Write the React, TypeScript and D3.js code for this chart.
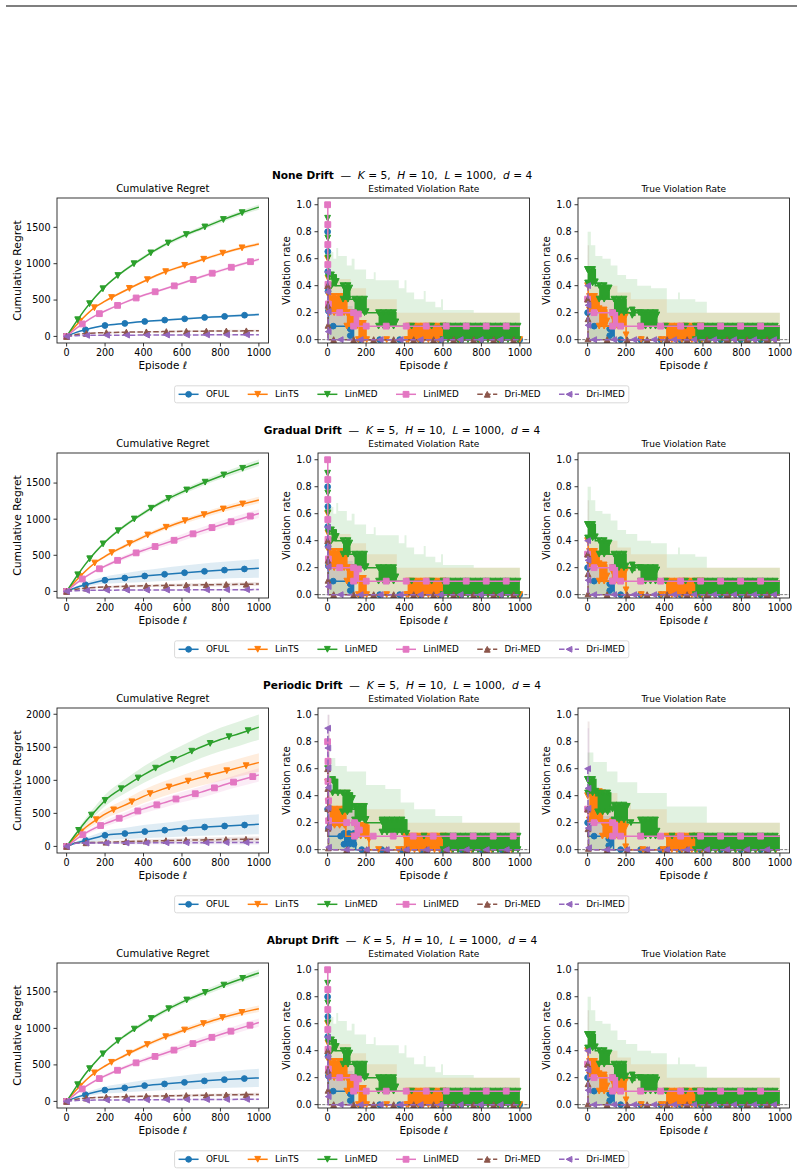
import React, { useEffect, useRef } from 'react';
import * as d3 from 'd3';

type Step = [number, number, number]; // [episode, low, high] held until next episode

const methods = ['OFUL', 'LinTS', 'LinMED', 'LinIMED', 'Dri-MED', 'Dri-IMED'];
const colors = ['#1f77b4', '#ff7f0e', '#2ca02c', '#e377c2', '#8c564b', '#9467bd'];
const markerTypes = ['o', 'v', 'v', 's', '^', '<'];
const dashedLines = [false, false, false, false, true, true];

const driftNames = ['None Drift', 'Gradual Drift', 'Periodic Drift', 'Abrupt Drift'];
const panelTitles = ['Cumulative Regret', 'Estimated Violation Rate', 'True Violation Rate'];

const episodeTicks = [0, 200, 400, 600, 800, 1000];
const rateTicks = [0, 0.2, 0.4, 0.6, 0.8, 1.0];
const regretTicksSmall = [0, 500, 1000, 1500];
const regretTicksLarge = [0, 500, 1000, 1500, 2000];

// cumulative regret, sampled at these episodes
const regretEpisodes = [0, 50, 100, 150, 200, 300, 400, 500, 600, 700, 800, 900, 1000];

const regretNone = [
  [0, 55, 93, 125, 150, 178, 204, 223, 240, 258, 272, 288, 300],
  [0, 155, 290, 405, 485, 625, 755, 875, 965, 1050, 1135, 1210, 1270],
  [0, 200, 385, 545, 685, 905, 1085, 1245, 1375, 1485, 1592, 1690, 1778],
  [0, 110, 205, 285, 350, 465, 565, 645, 730, 820, 905, 985, 1060],
  [0, 25, 40, 48, 52, 58, 62, 66, 70, 72, 74, 76, 78],
  [0, 10, 14, 15, 16, 17, 18, 19, 20, 21, 22, 22, 23],
];
const spreadNone = [
  [0, 5, 7, 9, 10, 12, 13, 14, 15, 16, 17, 18, 19],
  [0, 8, 10, 12, 14, 16, 18, 19, 20, 21, 22, 23, 24],
  [0, 10, 13, 15, 17, 20, 23, 25, 27, 29, 31, 33, 35],
  [0, 8, 10, 12, 13, 15, 17, 18, 19, 20, 21, 22, 24],
  [0, 6, 8, 9, 10, 11, 12, 12, 13, 13, 14, 14, 15],
  [0, 3, 4, 5, 5, 6, 6, 7, 7, 7, 8, 8, 8],
];

const regretGradual = [
  [0, 55, 95, 128, 155, 185, 212, 235, 256, 275, 292, 307, 320],
  [0, 150, 285, 400, 485, 625, 755, 870, 965, 1050, 1130, 1200, 1265],
  [0, 200, 385, 545, 685, 905, 1085, 1245, 1375, 1490, 1595, 1690, 1780],
  [0, 110, 205, 285, 350, 470, 570, 655, 745, 835, 920, 1000, 1078],
  [0, 30, 45, 55, 62, 70, 77, 82, 87, 91, 95, 98, 102],
  [0, 10, 14, 16, 17, 18, 19, 20, 21, 22, 23, 24, 25],
];
const spreadGradual = [
  [0, 15, 30, 40, 50, 65, 80, 90, 100, 108, 115, 122, 130],
  [0, 10, 14, 17, 20, 24, 28, 31, 34, 37, 40, 42, 45],
  [0, 10, 14, 17, 20, 24, 28, 31, 34, 37, 40, 42, 45],
  [0, 10, 15, 20, 24, 30, 36, 41, 46, 50, 54, 57, 60],
  [0, 8, 10, 12, 14, 17, 19, 21, 23, 24, 26, 27, 28],
  [0, 4, 5, 6, 7, 8, 9, 10, 10, 11, 11, 12, 12],
];

const regretPeriodic = [
  [0, 55, 92, 130, 168, 194, 223, 243, 270, 290, 306, 320, 335],
  [0, 150, 290, 395, 490, 620, 757, 867, 960, 1045, 1120, 1196, 1270],
  [0, 195, 380, 540, 695, 902, 1083, 1240, 1373, 1504, 1617, 1710, 1805],
  [0, 108, 205, 280, 345, 455, 568, 655, 745, 822, 915, 1000, 1083],
  [0, 50, 55, 60, 63, 72, 80, 87, 93, 98, 103, 107, 110],
  [0, 48, 50, 50, 51, 52, 53, 55, 56, 57, 58, 59, 60],
];
const spreadPeriodic = [
  [0, 20, 40, 55, 70, 85, 100, 110, 120, 128, 136, 143, 150],
  [0, 25, 45, 60, 70, 85, 100, 110, 118, 125, 130, 135, 140],
  [0, 30, 50, 70, 85, 105, 125, 140, 155, 167, 178, 185, 190],
  [0, 15, 28, 38, 45, 55, 65, 72, 78, 84, 90, 95, 100],
  [0, 15, 18, 20, 22, 25, 27, 29, 31, 33, 35, 38, 40],
  [0, 12, 14, 15, 16, 18, 20, 22, 24, 26, 27, 29, 30],
];

const regretAbrupt = [
  [0, 55, 95, 130, 155, 185, 215, 237, 258, 278, 295, 310, 322],
  [0, 155, 290, 400, 485, 625, 755, 870, 965, 1055, 1140, 1210, 1270],
  [0, 200, 385, 540, 680, 895, 1070, 1225, 1360, 1470, 1575, 1670, 1760],
  [0, 110, 205, 285, 350, 465, 565, 650, 740, 830, 915, 1000, 1080],
  [0, 30, 45, 52, 58, 65, 70, 75, 80, 84, 88, 92, 95],
  [0, 12, 16, 18, 19, 21, 22, 24, 25, 26, 27, 28, 29],
];
const spreadAbrupt = [
  [0, 15, 28, 38, 48, 62, 75, 85, 95, 103, 110, 118, 125],
  [0, 9, 12, 15, 18, 22, 26, 29, 32, 35, 38, 41, 44],
  [0, 10, 13, 16, 19, 23, 27, 30, 33, 36, 39, 42, 45],
  [0, 10, 14, 18, 22, 28, 33, 38, 42, 46, 50, 53, 56],
  [0, 7, 9, 11, 12, 14, 16, 17, 19, 20, 22, 23, 25],
  [0, 4, 5, 6, 6, 7, 8, 9, 10, 10, 11, 12, 12],
];

// violation rates; a step with low < high is a stretch where the rate flips between the two
const estimatedRates: Step[][] = [
  [[0, 0.8, 0.8], [1, 0.5, 0.5], [2, 0.3, 0.3], [4, 0.1, 0.1], [118, 0.03, 0.08], [135, 0, 0]],
  [[0, 0.6, 0.6], [2, 0.4, 0.4], [8, 0.2, 0.32], [100, 0.1, 0.2], [160, 0, 0.12], [200, 0, 0], [420, 0, 0.1], [620, 0, 0]],
  [[0, 0.9, 0.9], [1, 0.7, 0.7], [2, 0.6, 0.6], [4, 0.45, 0.45], [20, 0.4, 0.48], [45, 0.4, 0.4], [80, 0.3, 0.4], [115, 0.3, 0.3], [140, 0.2, 0.3], [200, 0.2, 0.2], [265, 0.1, 0.2], [355, 0.1, 0.1], [600, 0, 0.1]],
  [[0, 1, 1], [1, 0.5, 0.5], [2, 0.4, 0.4], [4, 0.2, 0.2], [135, 0.1, 0.2], [160, 0.1, 0.1]],
  [[0, 0.4, 0.4], [2, 0, 0]],
  [[0, 0.5, 0.5], [1, 0.3, 0.3], [3, 0, 0]],
];
const estimatedBands: Step[][] = [
  [[0, 0, 0.25], [130, 0, 0]],
  [[0, 0, 0.45], [120, 0, 0.38], [200, 0, 0.3], [360, 0, 0.2]],
  [[0, 0, 0.85], [10, 0, 0.65], [30, 0, 0.6], [45, 0, 0.68], [55, 0, 0.62], [100, 0, 0.55], [125, 0, 0.6], [140, 0, 0.52], [200, 0, 0.45], [240, 0, 0.5], [250, 0, 0.44], [370, 0, 0.38], [400, 0, 0.44], [410, 0, 0.35], [450, 0, 0.3], [500, 0, 0.36], [510, 0, 0.28], [560, 0, 0.24], [590, 0, 0.3], [600, 0, 0.22], [760, 0, 0.2]],
  [[0, 0.1, 0.3], [150, 0.1, 0.1]],
  [[0, 0, 0.9], [5, 0, 0]],
  [[0, 0, 0.5], [5, 0, 0]],
];

const trueRates: Step[][] = [
  [[0, 0.2, 0.2], [3, 0.1, 0.1], [115, 0.03, 0.08], [138, 0, 0]],
  [[0, 0.4, 0.4], [3, 0.3, 0.3], [10, 0.22, 0.32], [60, 0.1, 0.22], [100, 0.1, 0.1], [130, 0.1, 0.2], [200, 0, 0], [412, 0, 0.1], [620, 0, 0]],
  [[0, 0.42, 0.52], [40, 0.4, 0.4], [60, 0.3, 0.4], [112, 0.3, 0.3], [137, 0.2, 0.3], [200, 0.2, 0.2], [232, 0.18, 0.22], [250, 0.2, 0.2], [275, 0.1, 0.2], [360, 0.1, 0.1], [560, 0, 0.1]],
  [[0, 0.3, 0.3], [2, 0.2, 0.2], [130, 0.1, 0.2], [155, 0.1, 0.1]],
  [[0, 0.3, 0.3], [2, 0, 0]],
  [[0, 0.4, 0.4], [2, 0, 0]],
];
const trueBands: Step[][] = [
  [[0, 0, 0.2], [130, 0, 0]],
  [[0, 0, 0.4], [155, 0, 0.35], [225, 0, 0.3], [412, 0, 0.2]],
  [[0, 0, 0.8], [17, 0, 0.7], [40, 0, 0.62], [77, 0, 0.6], [120, 0, 0.55], [155, 0, 0.48], [200, 0, 0.45], [258, 0, 0.4], [330, 0, 0.38], [412, 0, 0.3], [470, 0, 0.35], [480, 0, 0.3], [560, 0, 0.28], [620, 0, 0.2]],
  [[0, 0.1, 0.3], [150, 0.1, 0.1]],
  [[0, 0, 0.7], [8, 0, 0]],
  [[0, 0, 0.4], [5, 0, 0]],
];

const periodicEstimatedRates: Step[][] = [
  [[0, 0.3, 0.3], [2, 0.2, 0.2], [4, 0.1, 0.1], [85, 0.04, 0.12], [146, 0, 0]],
  [[0, 0.5, 0.5], [2, 0.35, 0.35], [10, 0.18, 0.3], [95, 0.1, 0.1], [146, 0.1, 0.18], [215, 0, 0], [400, 0, 0.1], [620, 0, 0]],
  [[0, 0.6, 0.6], [2, 0.5, 0.5], [26, 0.42, 0.52], [52, 0.42, 0.42], [77, 0.28, 0.42], [129, 0.3, 0.3], [140, 0.22, 0.32], [200, 0.2, 0.2], [283, 0.13, 0.22], [412, 0.1, 0.1], [600, 0, 0.1]],
  [[0, 0.8, 0.8], [1, 0.7, 0.7], [2, 0.5, 0.5], [3, 0.4, 0.4], [5, 0.2, 0.2], [140, 0.1, 0.2], [165, 0.1, 0.1]],
  [[0, 0.6, 0.6], [1, 0.3, 0.3], [2, 0.1, 0.1], [4, 0, 0]],
  [[0, 0.9, 0.9], [1, 0.7, 0.7], [2, 0.5, 0.5], [3, 0.3, 0.3], [5, 0, 0]],
];
const periodicEstimatedBands: Step[][] = [
  [[0, 0, 0.3], [150, 0, 0]],
  [[0, 0, 0.45], [120, 0, 0.35], [200, 0, 0.3], [400, 0, 0.2]],
  [[0, 0, 0.85], [10, 0, 0.68], [40, 0, 0.62], [100, 0, 0.58], [200, 0, 0.48], [300, 0, 0.45], [380, 0, 0.35], [450, 0, 0.3], [560, 0, 0.25], [700, 0, 0.2]],
  [[0, 0.1, 0.9], [10, 0.1, 0.3], [150, 0.1, 0.1]],
  [[0, 0, 1.0], [10, 0, 0]],
  [[0, 0, 1.0], [8, 0, 0]],
];

const periodicTrueRates: Step[][] = [
  [[0, 0.2, 0.2], [2, 0.1, 0.1], [110, 0.03, 0.08], [135, 0, 0]],
  [[0, 0.4, 0.4], [9, 0.22, 0.43], [77, 0.1, 0.2], [130, 0.1, 0.21], [198, 0, 0], [412, 0, 0.1], [620, 0, 0]],
  [[0, 0.42, 0.52], [43, 0.4, 0.4], [52, 0.28, 0.42], [120, 0.3, 0.3], [137, 0.22, 0.33], [206, 0.2, 0.2], [275, 0.1, 0.22], [361, 0.1, 0.1], [560, 0, 0.1]],
  [[0, 0.3, 0.3], [3, 0.2, 0.2], [130, 0.1, 0.2], [155, 0.1, 0.1]],
  [[0, 0.3, 0.3], [2, 0.1, 0.1], [4, 0, 0]],
  [[0, 0.6, 0.6], [1, 0.5, 0.5], [2, 0.3, 0.3], [3, 0.15, 0.15], [5, 0, 0]],
];
const periodicTrueBands: Step[][] = [
  [[0, 0, 0.25], [130, 0, 0]],
  [[0, 0, 0.42], [155, 0, 0.35], [225, 0, 0.3], [412, 0, 0.2]],
  [[0, 0, 0.72], [30, 0, 0.65], [100, 0, 0.58], [155, 0, 0.5], [258, 0, 0.42], [412, 0, 0.32], [620, 0, 0.2]],
  [[0, 0.1, 0.35], [150, 0.1, 0.1]],
  [[0, 0, 0.95], [10, 0, 0]],
  [[0, 0, 0.9], [8, 0, 0]],
];

const rows = [
  { regret: regretNone, spread: spreadNone, ticks: regretTicksSmall, est: estimatedRates, estBand: estimatedBands, tru: trueRates, truBand: trueBands },
  { regret: regretGradual, spread: spreadGradual, ticks: regretTicksSmall, est: estimatedRates, estBand: estimatedBands, tru: trueRates, truBand: trueBands },
  { regret: regretPeriodic, spread: spreadPeriodic, ticks: regretTicksLarge, est: periodicEstimatedRates, estBand: periodicEstimatedBands, tru: periodicTrueRates, truBand: periodicTrueBands },
  { regret: regretAbrupt, spread: spreadAbrupt, ticks: regretTicksSmall, est: estimatedRates, estBand: estimatedBands, tru: trueRates, truBand: trueBands },
];

const FONT = '"DejaVu Sans", sans-serif';
const PW = 211.5;
const PH = 145;
const panelX = [57, 318, 578];
const ROW_TOP = 198;
const ROW_GAP = 255;
const MS = 5.8;
const MARK_EVERY = 20;

type Sel = d3.Selection<any, unknown, null, undefined>;

function markerPath(type: string) {
  const h = MS / 2;
  if (type === 'v') return `M${-h},${-h}L${h},${-h}L0,${h}Z`;
  if (type === '^') return `M${-h},${h}L${h},${h}L0,${-h}Z`;
  if (type === '<') return `M${h},${-h}L${h},${h}L${-h},0Z`;
  return `M${-h},${-h}H${h}V${h}H${-h}Z`;
}

function drawMarkers(g: Sel, pts: [number, number][], type: string, color: string) {
  pts.forEach(([px, py]) => {
    if (type === 'o') {
      g.append('circle').attr('cx', px).attr('cy', py).attr('r', MS / 2)
        .attr('fill', color).attr('stroke', color).attr('stroke-width', 1);
    } else {
      g.append('path').attr('d', markerPath(type)).attr('transform', `translate(${px},${py})`)
        .attr('fill', color).attr('stroke', color).attr('stroke-width', 1).attr('stroke-linejoin', 'miter');
    }
  });
}

function frame(root: Sel, x: d3.ScaleLinear<number, number>, y: d3.ScaleLinear<number, number>,
  left: number, top: number, yTicks: number[], yFmt: (v: number) => string) {
  const ax = root.append('g');
  episodeTicks.forEach((t) => {
    const px = x(t);
    ax.append('line').attr('x1', px).attr('x2', px).attr('y1', top + PH).attr('y2', top + PH + 3.5)
      .attr('stroke', '#000').attr('stroke-width', 0.8);
    ax.append('text').attr('x', px).attr('y', top + PH + 12.8).attr('text-anchor', 'middle')
      .attr('font-size', 9.6).attr('font-family', FONT).text(String(t));
  });
  yTicks.forEach((t) => {
    const py = y(t);
    ax.append('line').attr('x1', left - 3.5).attr('x2', left).attr('y1', py).attr('y2', py)
      .attr('stroke', '#000').attr('stroke-width', 0.8);
    ax.append('text').attr('x', left - 6.5).attr('y', py).attr('dy', '0.35em').attr('text-anchor', 'end')
      .attr('font-size', 9.6).attr('font-family', FONT).text(yFmt(t));
  });
  ax.append('rect').attr('x', left).attr('y', top).attr('width', PW).attr('height', PH)
    .attr('fill', 'none').attr('stroke', '#222').attr('stroke-width', 0.9);
  ax.append('text').attr('x', left + PW / 2).attr('y', top + PH + 25.5).attr('text-anchor', 'middle')
    .attr('font-size', 10.4).attr('font-family', FONT)
    .call((t) => {
      t.append('tspan').text('Episode ');
      t.append('tspan').attr('font-style', 'italic').text('ℓ');
    });
}

function clipFor(defs: Sel, id: string, left: number, top: number) {
  defs.append('clipPath').attr('id', id).append('rect')
    .attr('x', left).attr('y', top).attr('width', PW).attr('height', PH);
}

function drawRegret(root: Sel, defs: Sel, r: number, top: number) {
  const row = rows[r];
  const left = panelX[0];
  const highs = row.regret.flatMap((m, i) => m.map((v, j) => v + row.spread[i][j]));
  const lows = row.regret.flatMap((m, i) => m.map((v, j) => v - row.spread[i][j]));
  const lo = Math.min(0, d3.min(lows) as number);
  const hi = d3.max(highs) as number;
  const pad = (hi - lo) * 0.05;
  const x = d3.scaleLinear().domain([-50, 1050]).range([left, left + PW]);
  const y = d3.scaleLinear().domain([lo - pad, hi + pad]).range([top + PH, top]);
  const id = `clip-regret-${r}`;
  clipFor(defs, id, left, top);
  const g = root.append('g').attr('clip-path', `url(#${id})`);

  const area = d3.area<number>()
    .x((_, j) => x(regretEpisodes[j]))
    .curve(d3.curveMonotoneX);
  row.regret.forEach((m, i) => {
    g.append('path')
      .attr('d', area.y0((v, j) => y(v - row.spread[i][j])).y1((v, j) => y(v + row.spread[i][j]))(m) as string)
      .attr('fill', colors[i]).attr('opacity', 0.14);
  });

  const line = d3.line<number>().x((_, j) => x(regretEpisodes[j])).y((v) => y(v)).curve(d3.curveMonotoneX);
  row.regret.forEach((m, i) => {
    const p = g.append('path').attr('d', line(m) as string).attr('fill', 'none')
      .attr('stroke', colors[i]).attr('stroke-width', 1.5)
      .attr('stroke-dasharray', dashedLines[i] ? '5.5,2.4' : null);
    const node = p.node() as SVGPathElement;
    const L = node.getTotalLength();
    const pts: [number, number][] = [];
    for (let d = 0; d <= L; d += MARK_EVERY) {
      const q = node.getPointAtLength(d);
      pts.push([q.x, q.y]);
    }
    drawMarkers(g, pts, markerTypes[i], colors[i]);
  });

  frame(root, x, y, left, top, row.ticks, (v) => String(v));
  root.append('text').attr('transform', `translate(${left - 39.7},${top + PH / 2}) rotate(-90)`)
    .attr('text-anchor', 'middle').attr('dy', '0.35em').attr('font-size', 10.8).attr('font-family', FONT)
    .text('Cumulative Regret');
}

function drawViolation(root: Sel, defs: Sel, key: string, left: number, top: number,
  series: Step[][], bands: Step[][]) {
  const x = d3.scaleLinear().domain([-50, 1050]).range([left, left + PW]);
  const y = d3.scaleLinear().domain([-0.025, 1.05]).range([top + PH, top]);
  const id = `clip-${key}`;
  clipFor(defs, id, left, top);
  const g = root.append('g').attr('clip-path', `url(#${id})`);

  const area = d3.area<Step>().x((d) => x(d[0])).y0((d) => y(d[1])).y1((d) => y(d[2]))
    .curve(d3.curveStepAfter);
  bands.forEach((b, i) => {
    const last = b[b.length - 1];
    g.append('path').attr('d', area([...b, [1000, last[1], last[2]]]) as string)
      .attr('fill', colors[i]).attr('opacity', 0.14);
  });

  g.append('line').attr('x1', left).attr('x2', left + PW).attr('y1', y(0)).attr('y2', y(0))
    .attr('stroke', '#333').attr('stroke-width', 0.8).attr('stroke-dasharray', '3,1.3').attr('opacity', 0.8);

  series.forEach((s, i) => {
    const pts: [number, number][] = [];
    const blocks: [number, number, number, number][] = [];
    s.forEach((st, k) => {
      const a = st[0];
      const b = k < s.length - 1 ? s[k + 1][0] : 1000;
      pts.push([x(a), y(st[2])], [x(b), y(st[2])]);
      if (st[1] !== st[2]) blocks.push([x(a), x(b), y(st[1]), y(st[2])]);
    });
    blocks.forEach(([a, b, ylo, yhi]) => {
      g.append('rect').attr('x', a).attr('y', yhi - 0.75).attr('width', b - a).attr('height', ylo - yhi + 1.5)
        .attr('fill', colors[i]);
    });
    const p = g.append('path').attr('d', d3.line()(pts) as string).attr('fill', 'none')
      .attr('stroke', colors[i]).attr('stroke-width', 1.5)
      .attr('stroke-dasharray', dashedLines[i] ? '5.5,2.4' : null);
    const node = p.node() as SVGPathElement;
    const L = node.getTotalLength();
    const mk: [number, number][] = [];
    for (let d = 0; d <= L; d += MARK_EVERY) {
      const q = node.getPointAtLength(d);
      if (!blocks.some(([a, b]) => q.x > a + 0.5 && q.x < b - 0.5)) mk.push([q.x, q.y]);
    }
    blocks.forEach(([a, b, ylo, yhi]) => {
      for (let px = a; px <= b; px += 5) mk.push([px, yhi], [px, ylo]);
    });
    drawMarkers(g, mk, markerTypes[i], colors[i]);
  });

  frame(root, x, y, left, top, rateTicks, d3.format('.1f'));
  root.append('text').attr('transform', `translate(${left - 31.3},${top + PH / 2}) rotate(-90)`)
    .attr('text-anchor', 'middle').attr('dy', '0.35em').attr('font-size', 10.2).attr('font-family', FONT)
    .text('Violation rate');
}

function drawLegend(root: Sel, cy: number) {
  const fs = 8.8;
  const ctx = document.createElement('canvas').getContext('2d') as CanvasRenderingContext2D;
  ctx.font = `${fs}px "DejaVu Sans"`;
  const widths = methods.map((m) => ctx.measureText(m).width);
  const handle = 20;
  const gap = 7.3;
  const colSp = 18.5;
  const border = 4;
  const total = border * 2 + d3.sum(widths) + methods.length * (handle + gap) + (methods.length - 1) * colSp;
  const left = 401.7 - total / 2;
  root.append('rect').attr('x', left).attr('y', cy - 8.5).attr('width', total).attr('height', 17)
    .attr('rx', 2).attr('fill', '#fff').attr('stroke', '#d0d0d0').attr('stroke-width', 0.8);
  let cx = left + border;
  methods.forEach((m, i) => {
    root.append('line').attr('x1', cx).attr('x2', cx + handle).attr('y1', cy).attr('y2', cy)
      .attr('stroke', colors[i]).attr('stroke-width', 1.5)
      .attr('stroke-dasharray', dashedLines[i] ? '5.5,2.4' : null);
    drawMarkers(root, [[cx + handle / 2, cy]], markerTypes[i], colors[i]);
    root.append('text').attr('x', cx + handle + gap).attr('y', cy).attr('dy', '0.35em')
      .attr('font-size', fs).attr('font-family', FONT).text(m);
    cx += handle + gap + widths[i] + colSp;
  });
}

function drawTitle(root: Sel, name: string, yb: number) {
  const t = root.append('text').attr('x', 402).attr('y', yb).attr('text-anchor', 'middle')
    .attr('font-size', 10.6).attr('font-family', FONT).style('white-space', 'pre');
  t.append('tspan').attr('font-weight', 'bold').text(name);
  t.append('tspan').text('  —  ');
  const parts: [string, string][] = [['K', ' = 5,  '], ['H', ' = 10,  '], ['L', ' = 1000,  '], ['d', ' = 4']];
  parts.forEach(([v, rest]) => {
    t.append('tspan').attr('font-style', 'italic').text(v);
    t.append('tspan').text(rest);
  });
}

const App = () => {
  const svgRef = useRef<SVGSVGElement>(null);

  useEffect(() => {
    const svg = d3.select(svgRef.current);
    svg.selectAll('*').remove();
    const root = svg.append('g') as unknown as Sel;
    const defs = root.append('defs');

    root.append('line').attr('x1', 6).attr('x2', 797).attr('y1', 6).attr('y2', 6)
      .attr('stroke', '#000').attr('stroke-width', 1.2);

    rows.forEach((row, r) => {
      const top = ROW_TOP + r * ROW_GAP;
      drawTitle(root, driftNames[r], top - 19);
      panelTitles.forEach((title, k) => {
        root.append('text').attr('x', panelX[k] + PW / 2).attr('y', top - 6.3).attr('text-anchor', 'middle')
          .attr('font-size', k === 0 ? 10 : 9).attr('font-family', FONT).text(title);
      });
      drawRegret(root, defs, r, top);
      drawViolation(root, defs, `est-${r}`, panelX[1], top, row.est, row.estBand);
      drawViolation(root, defs, `true-${r}`, panelX[2], top, row.tru, row.truBand);
      drawLegend(root, top + 196.3);
    });
  }, []);

  return (
    <svg ref={svgRef} width={804} height={1176}
      style={{ position: 'absolute', left: 0, top: 0, background: '#fff', display: 'block' }} />
  );
};

export default App;
